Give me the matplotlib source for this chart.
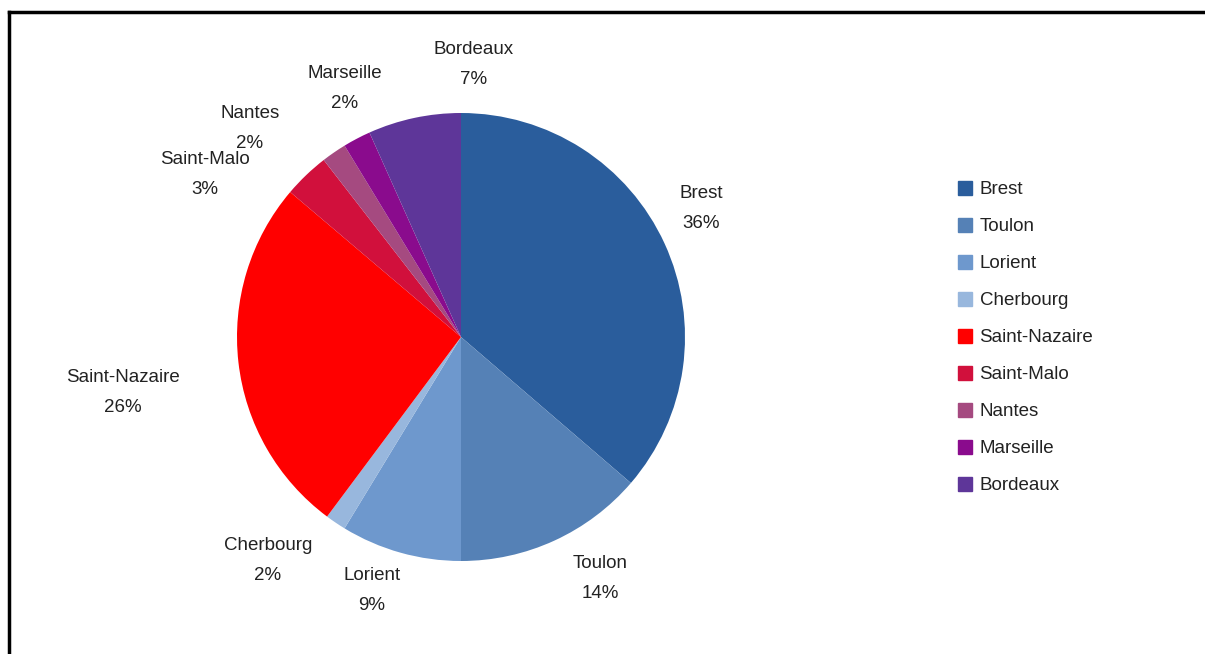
import numpy as np
import matplotlib
matplotlib.use("Agg")
import matplotlib.pyplot as plt
from matplotlib.lines import Line2D

# ------------------------------ Data ------------------------------

ports = ['Brest', 'Toulon', 'Lorient', 'Cherbourg', 'Saint-Nazaire',
         'Saint-Malo', 'Nantes', 'Marseille', 'Bordeaux']
shares = [36.3, 13.7, 8.7, 1.5, 26.0, 3.3, 1.8, 2.0, 6.7]
pct_labels = ['36%', '14%', '9%', '2%', '26%', '3%', '2%', '2%', '7%']

colors = ['#2A5D9C', '#5581B6', '#6E98CD', '#98B7DD', '#FF0000',
          '#D1103C', '#A54A80', '#8A0B8D', '#5E3699']

# label centres in pixel coordinates (x from left, y from top)
label_xy = [(701, 208), (600, 578), (372, 591), (268, 561), (123, 392),
            (205, 174), (250, 129), (345, 88), (474, 65)]

# ------------------------------ Plotting ------------------------------

W, H = 1205, 654
plt.rcParams['font.family'] = ['Liberation Sans', 'DejaVu Sans']
fig = plt.figure(figsize=(W / 100, H / 100), dpi=100)
ax = fig.add_axes([0, 0, 1, 1])

cx, cy, r = 461, 337, 224
wedges, _ = ax.pie(shares, colors=colors, startangle=90, counterclock=False,
                   center=(cx, H - cy), radius=r, frame=True,
                   wedgeprops=dict(linewidth=0))
ax.set_xlim(0, W)
ax.set_ylim(0, H)
ax.set_aspect('equal')
ax.axis('off')

fs = 13.5
for name, pct, (lx, ly) in zip(ports, pct_labels, label_xy):
    ax.text(lx, H - ly, f"{name}\n{pct}", ha='center', va='center',
            fontsize=fs, color='#222222', linespacing=2.0)

# legend
handles = [Line2D([], [], marker='s', linestyle='none', markersize=9.5,
                  markerfacecolor=c, markeredgecolor=c) for c in colors]
fig.legend(handles, ports, loc='upper left', frameon=False,
           bbox_to_anchor=(958 / W, 1 - 181 / H), fontsize=fs,
           handlelength=0.7, handletextpad=0.45, labelspacing=1.06,
           borderpad=0, borderaxespad=0, labelcolor='#222222')

# frame lines (top and left)
fig.add_artist(Line2D([9 / W, 1], [1 - 12 / H, 1 - 12 / H],
                      color='black', linewidth=2.5))
fig.add_artist(Line2D([9 / W, 9 / W], [0, 1 - 12 / H],
                      color='black', linewidth=2.5))

plt.savefig("out.png", dpi=100)
